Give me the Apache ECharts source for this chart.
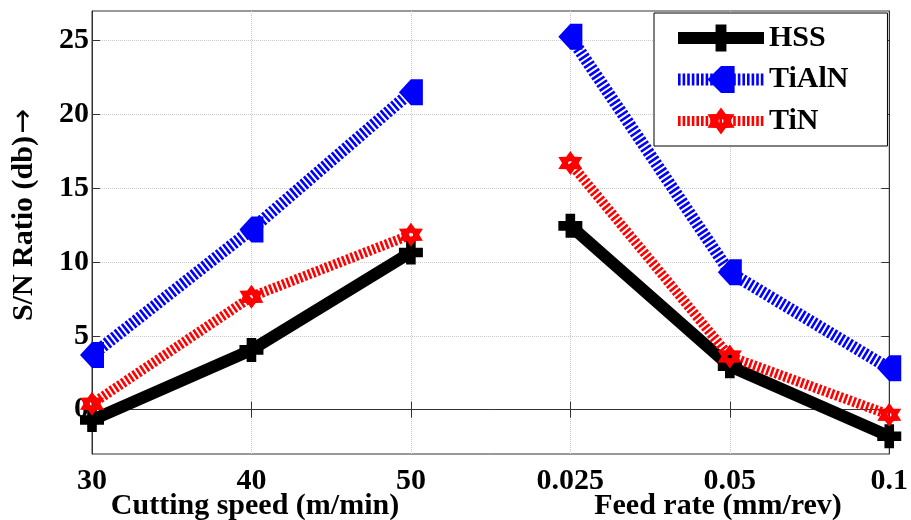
<!DOCTYPE html>
<html>
<head>
<meta charset="utf-8">
<script src="https://cdn.jsdelivr.net/npm/echarts@6/dist/echarts.min.js"></script>
<style>html,body{margin:0;padding:0;background:#fff;}#c{width:911px;height:520px;}</style>
</head>
<body>
<div id="c"></div>
<script>
var categories = ['30', '40', '50', '0.025', '0.05', '0.1'];
var yTicks = [0, 5, 10, 15, 20, 25];
var hssSpeed = [-0.7, 4.05, 10.65];
var hssFeed = [12.45, 2.95, -1.8];
var tialnSpeed = [3.7, 12.2, 21.5];
var tialnFeed = [25.25, 9.3, 2.8];
var tinSpeed = [0.4, 7.65, 11.85];
var tinFeed = [16.7, 3.6, -0.35];
var xNameSpeed = 'Cutting speed (m/min)';
var xNameFeed = 'Feed rate (mm/rev)';
var yNameText = 'S/N Ratio (db)';
var yNameArrow = '\u2192';

var FONT = '"Liberation Serif","Times New Roman",serif';
var plusPath = 'path://M6 0H14V6H20V14H14V20H6V14H0V6H6Z';
var leftPath = 'path://M0 10L10 0H20V20H10Z';
var hexPath = 'path://M10 0L13 4.8L18.66 5L16 10L18.66 15L13 15.2L10 20L7 15.2L1.34 15L4 10L1.34 5L7 4.8ZM10 8.3L8.5 9.15L8.5 10.85L10 11.7L11.5 10.85L11.5 9.15Z';
var STRIPE = [2.6, 2];

function pad(left, vals) {
  return left ? vals.concat(['-', '-', '-']) : ['-', '-', '-'].concat(vals);
}
function mk(name, vals, left, color, width, dash, sym, size) {
  return {
    name: name, type: 'line', data: pad(left, vals), clip: false,
    symbol: sym, symbolSize: size, showAllSymbol: true,
    lineStyle: {color: color, width: width, type: dash, cap: 'butt'},
    itemStyle: {color: color, borderWidth: 0, opacity: 1},
    emphasis: {disabled: true}, animation: false
  };
}
var series = [
  mk('HSS', hssSpeed, true, '#000', 12, 'solid', plusPath, 24),
  mk('HSS', hssFeed, false, '#000', 12, 'solid', plusPath, 24),
  mk('TiAlN', tialnSpeed, true, '#0000ff', 12, STRIPE, leftPath, [24, 26]),
  mk('TiAlN', tialnFeed, false, '#0000ff', 12, STRIPE, leftPath, [24, 26]),
  mk('TiN', tinSpeed, true, '#ff0000', 10, STRIPE, hexPath, 24),
  mk('TiN', tinFeed, false, '#ff0000', 10, STRIPE, hexPath, 24)
];

var axisLineStyle = {color: '#333', width: 1};
var chart = echarts.init(document.getElementById('c'));
chart.setOption({
  animation: false,
  backgroundColor: '#fff',
  grid: {left: 92, right: 18, top: 11, bottom: 66, show: true, borderColor: '#333', borderWidth: 1},
  xAxis: [{
    type: 'category', data: categories, boundaryGap: false, position: 'bottom',
    axisLine: {lineStyle: axisLineStyle},
    axisTick: {inside: true, length: 8, lineStyle: axisLineStyle},
    axisLabel: {margin: 12, color: '#000', fontFamily: FONT, fontWeight: 'bold', fontSize: 30},
    splitLine: {show: true, lineStyle: {color: '#c8c8c8', type: 'dotted', width: 1}}
  }, {
    type: 'category', data: categories, boundaryGap: false, position: 'top',
    axisLine: {lineStyle: axisLineStyle},
    axisTick: {inside: true, length: 8, lineStyle: axisLineStyle},
    axisLabel: {show: false}, splitLine: {show: false}
  }],
  yAxis: [{
    type: 'value', min: -3, max: 27, position: 'left',
    axisLine: {show: true, lineStyle: axisLineStyle},
    axisTick: {show: true, inside: true, length: 8, lineStyle: axisLineStyle, customValues: yTicks},
    axisLabel: {margin: 3, color: '#000', fontFamily: FONT, fontWeight: 'bold', fontSize: 30, customValues: yTicks},
    splitLine: {show: true, lineStyle: {color: '#c8c8c8', type: 'dotted', width: 1}}
  }, {
    type: 'value', min: -3, max: 27, position: 'right',
    axisLine: {show: true, lineStyle: axisLineStyle},
    axisTick: {show: true, inside: true, length: 8, lineStyle: axisLineStyle, customValues: yTicks},
    axisLabel: {show: false}, splitLine: {show: false}
  }],
  legend: {
    data: [
      {name: 'HSS', lineStyle: {width: 12, type: 'solid', color: '#000'}},
      {name: 'TiAlN', lineStyle: {width: 12, type: STRIPE, color: '#0000ff'}},
      {name: 'TiN', lineStyle: {width: 10, type: STRIPE, color: '#ff0000'}}
    ],
    orient: 'vertical', left: 654, top: 13,
    backgroundColor: '#fff', borderColor: '#000', borderWidth: 1, borderRadius: 0,
    padding: [10, 39, 10, 18], itemGap: 11.5, itemWidth: 86, itemHeight: 34,
    textStyle: {color: '#000', fontFamily: FONT, fontWeight: 'bold', fontSize: 30},
    selectedMode: false
  },
  graphic: [
    {type: 'text', x: 255, y: 506, style: {text: xNameSpeed, font: 'bold 30px ' + FONT, fill: '#000', align: 'center', verticalAlign: 'middle'}},
    {type: 'text', x: 718, y: 506, style: {text: xNameFeed, font: 'bold 30px ' + FONT, fill: '#000', align: 'center', verticalAlign: 'middle'}},
    {type: 'text', x: 24, y: 215, rotation: Math.PI / 2, style: {
      text: '{t|' + yNameText + '}{a|' + yNameArrow + '}', fill: '#000', align: 'center', verticalAlign: 'middle',
      rich: {
        t: {font: 'bold 30px ' + FONT, fill: '#000'},
        a: {font: '30px "DejaVu Sans"', fill: '#000', padding: [0, 0, 0, 2]}
      }
    }}
  ],
  series: series
});
</script>
</body>
</html>
